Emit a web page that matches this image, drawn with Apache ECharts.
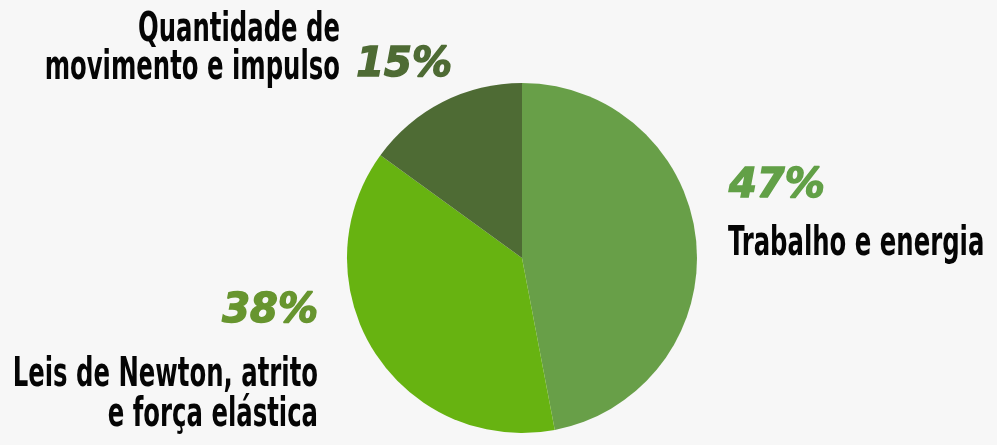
<!DOCTYPE html>
<html>
<head>
<meta charset="utf-8">
<script src="https://cdn.jsdelivr.net/npm/echarts@6/dist/echarts.min.js"></script>
<style>
  html, body { margin: 0; padding: 0; background: #f7f7f7; }
  #chart { width: 997px; height: 445px; }
</style>
</head>
<body>
<div id="chart"></div>
<script>
// dados do gráfico
const categories = ['Trabalho e energia', 'Leis de Newton, atrito\ne força elástica', 'Quantidade de\nmovimento e impulso']
const values = [47, 38, 15]
const sliceColors = ['#689f48', '#67b311', '#4e6b34']
const percentColors = ['#62a047', '#67952f', '#4e6b34']

// posição dos percentuais: [x, topo, align]
const pctPos = [
  [729, 167, 'left'],
  [318, 292, 'right'],
  [452, 46, 'right']
]
// posição dos nomes: [x, meio do bloco, align, lineHeight]
const namePos = [
  [728, 244, 'left', 40],
  [318, 395, 'right', 40],
  [340, 49, 'right', 38]
]

function pctStyle (i) {
  return {
    fontFamily: '"DejaVu Sans", sans-serif',
    fontWeight: 'bold',
    fontStyle: 'italic',
    fontSize: 40,
    lineHeight: 40,
    color: percentColors[i],
    textBorderColor: percentColors[i],
    textBorderWidth: 1.5
  }
}

let myChart = echarts.init(document.getElementById('chart'))
let option = {
  backgroundColor: '#f7f7f7',
  animation: false,
  graphic: categories.map(function (c, i) {
    return {
      type: 'text',
      x: namePos[i][0],
      y: namePos[i][1],
      scaleX: 0.66,
      silent: true,
      style: {
        text: c,
        fill: '#050505',
        font: 'bold 41px "DejaVu Sans Condensed", "DejaVu Sans", sans-serif',
        lineHeight: namePos[i][3],
        align: namePos[i][2],
        verticalAlign: 'middle'
      }
    }
  }),
  series: [
    {
      type: 'pie',
      center: [522, 258],
      radius: 175,
      startAngle: 90,
      clockwise: true,
      itemStyle: { borderWidth: 0 },
      labelLine: { show: false },
      label: {
        show: true,
        overflow: 'none',
        formatter: function (p) {
          return '{p' + p.dataIndex + '|' + values[p.dataIndex] + '%}'
        },
        rich: {
          p0: pctStyle(0),
          p1: pctStyle(1),
          p2: pctStyle(2)
        }
      },
      labelLayout: function (params) {
        const pos = pctPos[params.dataIndex]
        return { x: pos[0], y: pos[1], align: pos[2], verticalAlign: 'top' }
      },
      data: categories.map(function (c, i) {
        return { name: c, value: values[i], itemStyle: { color: sliceColors[i] } }
      })
    }
  ]
}
myChart.setOption(option)
</script>
</body>
</html>
